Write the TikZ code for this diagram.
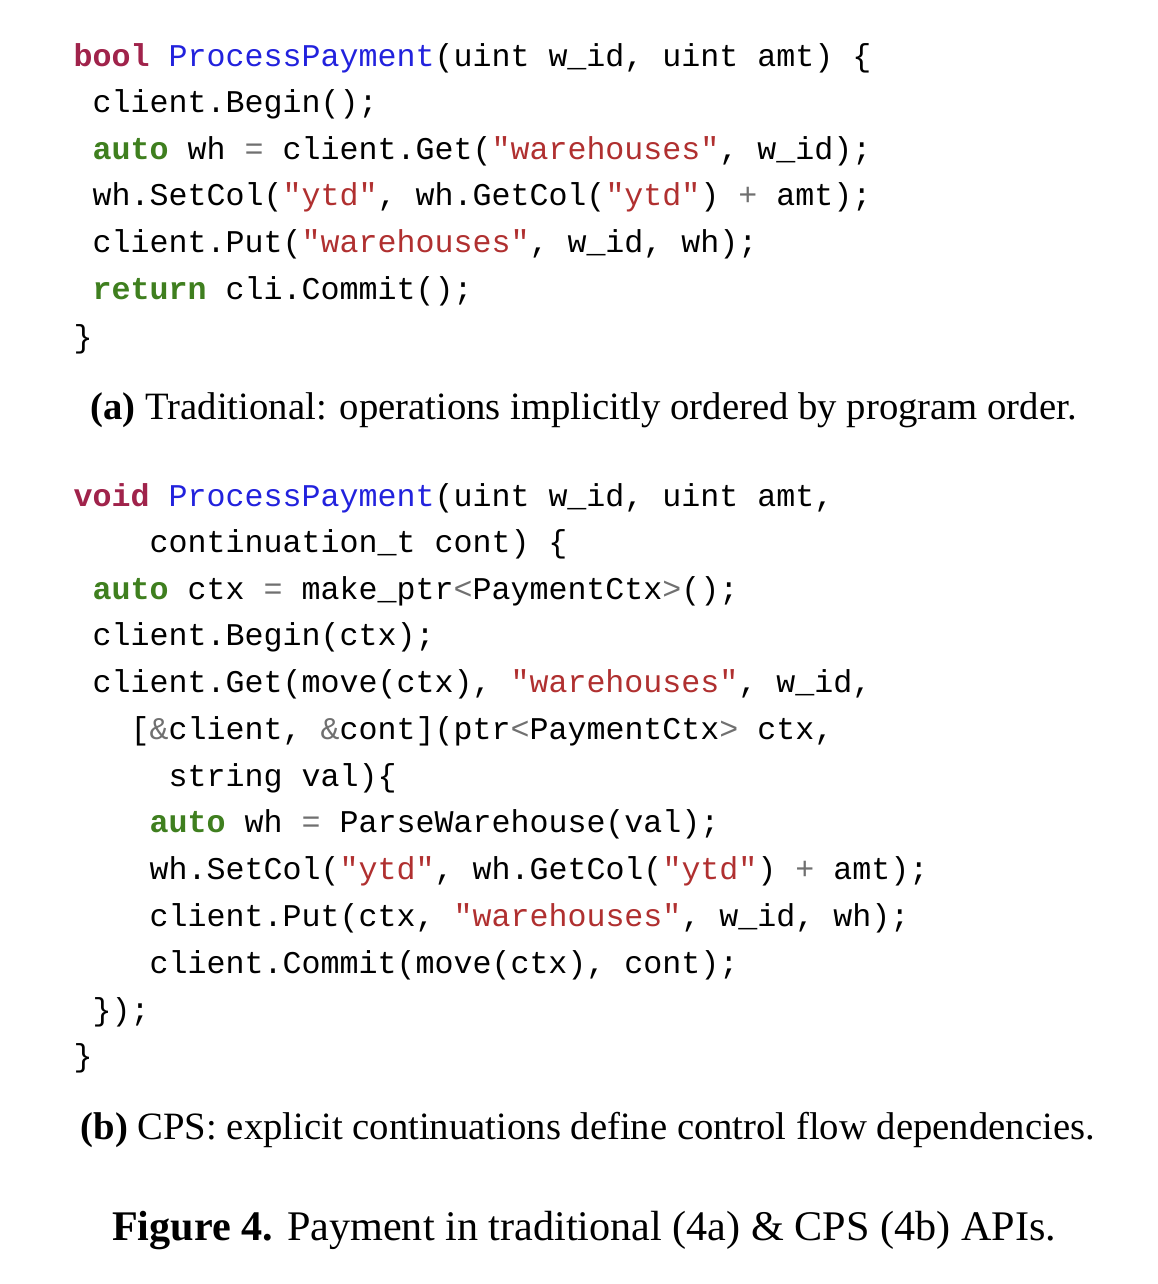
\documentclass[tikz,border=0pt]{standalone}
\usepackage{fontspec}
\setmainfont{Liberation Serif}
\newfontfamily\codefont{Liberation Mono}
\definecolor{kwred}{HTML}{A0234B}
\definecolor{fnblue}{HTML}{2222DD}
\definecolor{kwgreen}{HTML}{3F7F1F}
\definecolor{strred}{HTML}{B03030}
\definecolor{opgray}{HTML}{707070}
\newcommand\cK[1]{\textcolor{kwred}{\bfseries #1}}
\newcommand\cF[1]{\textcolor{fnblue}{#1}}
\newcommand\cG[1]{\textcolor{kwgreen}{\bfseries #1}}
\newcommand\cS[1]{\textcolor{strred}{#1}}
\newcommand\cO[1]{\textcolor{opgray}{#1}}
\begin{document}
\begin{tikzpicture}[x=0.01cm,y=-0.01cm,
  code/.style={anchor=base west,inner sep=0pt,font=\codefont\fontsize{9.0pt}{11pt}\selectfont},
  captxt/.style={anchor=base west,inner sep=0pt,font=\fontsize{11pt}{12pt}\selectfont}]
\useasboundingbox (0,0) rectangle (1158,1284);
\def\c{19}
\node[code] (a1) at (73,66) {\cK{bool} \cF{ProcessPayment}(uint w\_id, uint amt) \{};
\node[code] (a2) at (73+\c,112) {client.Begin();};
\node[code] (a3) at (73+\c,159) {\cG{auto} wh \cO{=} client.Get(\cS{"warehouses"}, w\_id);};
\node[code] (a4) at (73+\c,205) {wh.SetCol(\cS{"ytd"}, wh.GetCol(\cS{"ytd"}) \cO{+} amt);};
\node[code] (a5) at (73+\c,252) {client.Put(\cS{"warehouses"}, w\_id, wh);};
\node[code] (a6) at (73+\c,299) {\cG{return} cli.Commit();};
\node[code] (a7) at (73,347) {\}};
\node[captxt] (ca) at (90,419) {\textbf{(a)} Traditional: operations implicitly ordered by program order.};
\node[code] (b1) at (73,506) {\cK{void} \cF{ProcessPayment}(uint w\_id, uint amt,};
\node[code] (b2) at (73+4*\c,552) {continuation\_t cont) \{};
\node[code] (b3) at (73+\c,599) {\cG{auto} ctx \cO{=} make\_ptr\cO{<}PaymentCtx\cO{>}();};
\node[code] (b4) at (73+\c,645) {client.Begin(ctx);};
\node[code] (b5) at (73+\c,692) {client.Get(move(ctx), \cS{"warehouses"}, w\_id,};
\node[code] (b6) at (73+3*\c,739) {[\cO{\&}client, \cO{\&}cont](ptr\cO{<}PaymentCtx\cO{>} ctx,};
\node[code] (b7) at (73+5*\c,786) {string val)\{};
\node[code] (b8) at (73+4*\c,832) {\cG{auto} wh \cO{=} ParseWarehouse(val);};
\node[code] (b9) at (73+4*\c,879) {wh.SetCol(\cS{"ytd"}, wh.GetCol(\cS{"ytd"}) \cO{+} amt);};
\node[code] (b10) at (73+4*\c,926) {client.Put(ctx, \cS{"warehouses"}, w\_id, wh);};
\node[code] (b11) at (73+4*\c,973) {client.Commit(move(ctx), cont);};
\node[code] (b12) at (73+\c,1020) {\});};
\node[code] (b13) at (73,1066) {\}};
\node[captxt] (cb) at (80,1139) {\textbf{(b)} CPS: explicit continuations define control flow dependencies.};
\node[anchor=base,inner sep=0pt,font=\fontsize{12pt}{14pt}\selectfont] (fig) at (584,1240) {\textbf{Figure 4.} Payment in traditional (4a) \& CPS (4b) APIs.};
\end{tikzpicture}
\end{document}
